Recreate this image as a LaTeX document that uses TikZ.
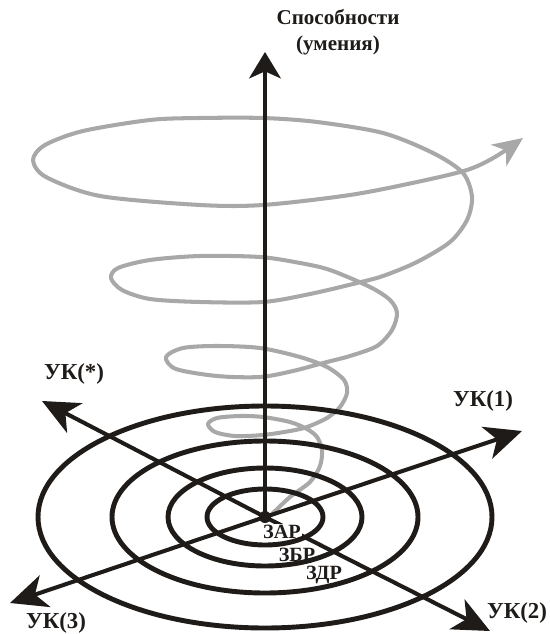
\documentclass[tikz,border=0pt]{standalone}
\usepackage{fontspec}
\setmainfont{Liberation Serif}
\usetikzlibrary{arrows.meta}
\definecolor{axisblack}{HTML}{1E1B18}
\definecolor{spiralgray}{HTML}{A8A8A8}

\begin{document}
\begin{tikzpicture}[
  x=0.02cm, y=-0.02cm,
  axis/.style={draw=axisblack, line width=2.3pt,
               -{Stealth[length=21pt, width=19pt, inset=6pt]}},
  upaxis/.style={draw=axisblack, line width=2.3pt,
                 -{Stealth[length=15pt, width=18pt, inset=4pt]}},
  ring/.style={draw=axisblack, line width=2.8pt},
  spiral/.style={draw=spiralgray, line width=2.3pt, line join=round,
                 -{Stealth[length=17pt, width=15pt, inset=5pt]}},
  axlbl/.style={font=\bfseries\fontsize{13}{15}\selectfont, text=axisblack,
                inner sep=0pt},
  zonelbl/.style={font=\bfseries\fontsize{11.5}{13}\selectfont, text=axisblack,
                  fill=white, inner sep=0.8pt}
]
\useasboundingbox (0,0) rectangle (549,634);

% ---------- centre and axis ends ----------
\coordinate (o) at (265,517);
\coordinate (up) at (265,52);
\coordinate (k1) at (522,431);
\coordinate (k2) at (490,631);
\coordinate (k3) at (10,603);
\coordinate (kst) at (42,401);

% ---------- growth spiral ----------
\draw[spiral] plot[smooth] coordinates {
  (271,515) (290,497) (310,482) (320,466) (322,450) (317,437) (307,429)
  (290,422) (263,417) (240,416) (217,418) (208,424) (215,432) (235,436)
  (263,435) (290,431) (307,427) (327,418) (340,407) (347,393) (344,380)
  (327,367) (300,357) (260,348) (217,346) (183,348) (166,357) (176,369)
  (217,376) (260,377) (293,371) (323,363) (350,356) (377,346) (392,330)
  (397,313) (390,300) (370,287) (330,270) (300,263) (260,257) (200,256)
  (150,260) (118,268) (111,278) (122,290) (150,299) (200,302) (263,302)
  (310,294) (357,283) (383,276) (417,262) (450,242) (467,220) (472,197)
  (463,173) (433,153) (383,133) (317,122) (263,118) (200,118) (150,120)
  (83,131) (45,145) (33,160) (46,177) (100,196) (200,205) (263,205)
  (350,195) (417,182) (467,170) (495,157) (523,138)};

% ---------- axes ----------
\draw[upaxis] (o) -- (up);
\draw[axis] (o) -- (k1);
\draw[axis] (o) -- (k2);
\draw[axis] (o) -- (k3);
\draw[axis] (o) -- (kst);

% ---------- zone labels ----------
\node[zonelbl] (zar) at (282,532) {ЗАР};
\node[zonelbl] (zbr) at (297,555) {ЗБР};
\node[zonelbl] (zdr) at (324,575) {ЗДР};

% ---------- rings ----------
\draw[ring] (o) ellipse [x radius=58, y radius=28];
\draw[ring] (o) ellipse [x radius=97, y radius=49];
\draw[ring] (o) ellipse [x radius=153, y radius=76];
\draw[ring] (o) ellipse [x radius=227, y radius=111];
\fill[axisblack] (o) circle [radius=6];

% ---------- axis labels ----------
\node[axlbl, align=center, font=\bfseries\fontsize{12}{15}\selectfont]
  (abil) at (338,32) {Способности\\(умения)};
\node[axlbl] (lk1) at (483,401) {УК(1)};
\node[axlbl] (lk2) at (517,613) {УК(2)};
\node[axlbl] (lk3) at (56,623) {УК(3)};
\node[axlbl] (lkst) at (74,374) {УК(*)};

\end{tikzpicture}
\end{document}
